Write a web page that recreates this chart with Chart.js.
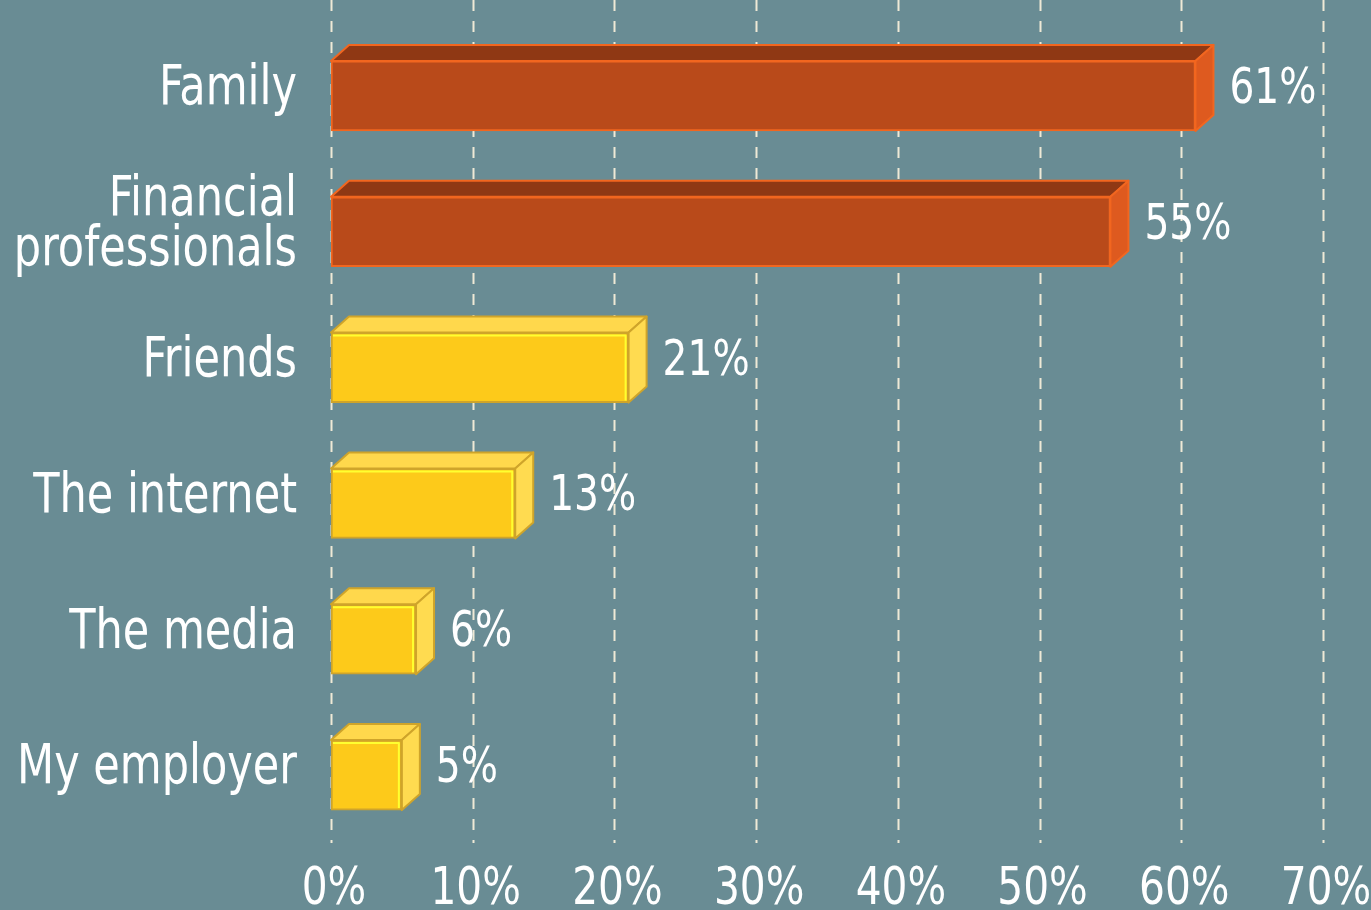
<!DOCTYPE html>
<html>
<head>
<meta charset="utf-8">
<script src="https://cdn.jsdelivr.net/npm/chart.js@4.4.1/dist/chart.umd.min.js"></script>
<style>
  html, body { margin: 0; padding: 0; background: #698c94; overflow: hidden; }
  #wrap { width: 1371px; height: 910px; }
</style>
</head>
<body>
<div id="wrap"><canvas id="chart" width="1371" height="910"></canvas></div>
<script>
const categories = ['Family', ['Financial', 'professionals'], 'Friends', 'The internet', 'The media', 'My employer'];
const values = [61, 55, 21, 13, 6, 5];
const xTicks = [0, 10, 20, 30, 40, 50, 60, 70];

// no narrow font installed, so condensed DejaVu is squeezed a bit more
const FONT = "'DejaVu Sans Condensed', 'DejaVu Sans', sans-serif";
const SQUEEZE = 0.87;

// orange for the top two, yellow for the rest
const front = values.map((v, i) => i < 2 ? '#b94a1a' : '#fdca1a');
const edge = values.map((v, i) => i < 2 ? '#f2661f' : '#cfa42a');
const topFace = values.map((v, i) => i < 2 ? '#8f3814' : '#ffd84c');
const sideFace = values.map((v, i) => i < 2 ? '#de5a1f' : '#ffdb50');

const DX = 18, DY = 16;

function squeezedText(ctx, text, x, y, align) {
  ctx.save();
  ctx.textAlign = align;
  ctx.textBaseline = 'middle';
  ctx.scale(SQUEEZE, 1);
  ctx.fillText(text, x / SQUEEZE, y);
  ctx.restore();
}

const dashedGrid = {
  id: 'dashedGrid',
  beforeDatasetsDraw(chart) {
    const ctx = chart.ctx;
    const xs = chart.scales.x;
    ctx.save();
    ctx.strokeStyle = '#efe9d6';
    ctx.lineWidth = 2;
    ctx.setLineDash([11, 10]);
    xs.ticks.forEach(t => {
      const px = Math.round(xs.getPixelForValue(t.value)) + 0.5;
      ctx.beginPath();
      ctx.moveTo(px, 0);
      ctx.lineTo(px, chart.chartArea.bottom);
      ctx.stroke();
    });
    ctx.restore();
  }
};

const bars3d = {
  id: 'bars3d',
  afterDatasetsDraw(chart) {
    const ctx = chart.ctx;
    const meta = chart.getDatasetMeta(0);
    ctx.save();
    meta.data.forEach((bar, i) => {
      const x0 = bar.base, x1 = bar.x;
      const top = bar.y - bar.height / 2, bottom = bar.y + bar.height / 2;
      ctx.lineWidth = 2;
      ctx.strokeStyle = edge[i];
      ctx.lineJoin = 'round';
      // top face
      ctx.beginPath();
      ctx.moveTo(x0, top);
      ctx.lineTo(x0 + DX, top - DY);
      ctx.lineTo(x1 + DX, top - DY);
      ctx.lineTo(x1, top);
      ctx.closePath();
      ctx.fillStyle = topFace[i];
      ctx.fill();
      ctx.stroke();
      // side face
      ctx.beginPath();
      ctx.moveTo(x1, top);
      ctx.lineTo(x1 + DX, top - DY);
      ctx.lineTo(x1 + DX, bottom - DY);
      ctx.lineTo(x1, bottom);
      ctx.closePath();
      ctx.fillStyle = sideFace[i];
      ctx.fill();
      ctx.stroke();
      if (i >= 2) {
        // bright inner highlight on yellow bars
        ctx.strokeStyle = '#ffff30';
        ctx.beginPath();
        ctx.moveTo(x0 + 2, top + 3);
        ctx.lineTo(x1 - 3, top + 3);
        ctx.lineTo(x1 - 3, bottom - 2);
        ctx.stroke();
      }
      // value label
      ctx.fillStyle = '#ffffff';
      ctx.font = '50px ' + FONT;
      squeezedText(ctx, values[i] + '%', x1 + DX + 16, bar.y - 6, 'left');
    });
    ctx.restore();
  }
};

const axisLabels = {
  id: 'axisLabels',
  afterDraw(chart) {
    const ctx = chart.ctx;
    const xs = chart.scales.x, ys = chart.scales.y;
    ctx.save();
    ctx.fillStyle = '#ffffff';
    ctx.font = '55px ' + FONT;
    chart.data.labels.forEach((lab, i) => {
      const y = ys.getPixelForTick(i) - 6;
      const lines = Array.isArray(lab) ? lab : [lab];
      const lh = 50;
      lines.forEach((ln, k) => {
        squeezedText(ctx, ln, 297, y + (k - (lines.length - 1) / 2) * lh, 'right');
      });
    });
    ctx.font = '52px ' + FONT;
    xs.ticks.forEach(t => {
      squeezedText(ctx, t.value + '%', xs.getPixelForValue(t.value) + 3, 890, 'center');
    });
    ctx.restore();
  }
};

new Chart(document.getElementById('chart'), {
  type: 'bar',
  data: {
    labels: categories,
    datasets: [{
      data: values,
      backgroundColor: front,
      borderColor: edge,
      borderWidth: 2,
      borderSkipped: false,
      barThickness: 70
    }]
  },
  options: {
    indexAxis: 'y',
    responsive: false,
    animation: false,
    layout: { padding: { top: 28, right: 48, left: 0, bottom: 0 } },
    scales: {
      x: {
        min: 0,
        max: 70,
        afterBuildTicks: (scale) => { scale.ticks = xTicks.map(v => ({ value: v })); },
        afterFit: (scale) => { scale.height = 910 - 843; },
        grid: { display: false },
        border: { display: false },
        ticks: { display: false }
      },
      y: {
        afterFit: (scale) => { scale.width = 331; },
        grid: { display: false },
        border: { display: false },
        ticks: { display: false }
      }
    },
    plugins: {
      legend: { display: false },
      tooltip: { enabled: false }
    }
  },
  plugins: [dashedGrid, bars3d, axisLabels]
});
</script>
</body>
</html>
